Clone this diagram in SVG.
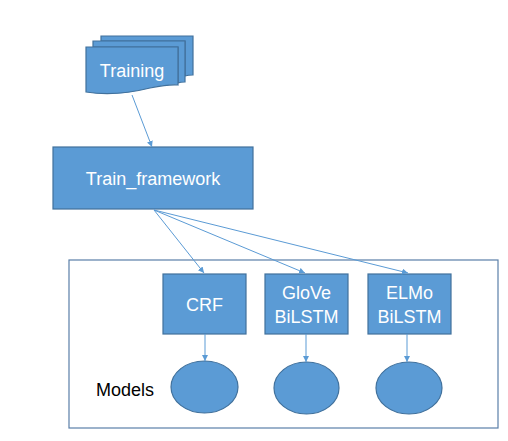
<svg xmlns="http://www.w3.org/2000/svg" width="508" height="441" viewBox="0 0 508 441">
<defs>
<style>
.n{fill:#5B9BD5;stroke:#41719C;stroke-width:1.2}
.t{font-family:"Liberation Sans",Arial,sans-serif;font-size:18px;fill:#fff;text-anchor:middle}
.c{stroke:#5B9BD5;stroke-width:1;fill:none;marker-end:url(#a)}
</style>
<marker id="a" markerWidth="8" markerHeight="8" refX="6" refY="3" orient="auto" markerUnits="userSpaceOnUse">
<path d="M0,0 L6,3 L0,6 Z" fill="#5B9BD5"/>
</marker>
</defs>
<rect width="508" height="441" fill="#fff"/>
<g id="container"><rect x="69" y="260" width="429" height="168" fill="none" stroke="#5A7FA8" stroke-width="1.2"/></g>
<g id="training">
<path class="n" d="M101,36 H193 V75 C190,75 188,75 185,76 V41 H101 Z"/>
<path class="n" d="M93,41 H185 V82 C182,82 180,82 178,83 V47 H93 Z"/>
<path class="n" d="M86,47 H178 V85 C170,84 160,86 150,88 C130,93 110,96 86,92 Z"/>
<text class="t" x="132" y="77">Training</text>
</g>
<g id="train_framework">
<rect class="n" x="53" y="147" width="200" height="62"/>
<text class="t" x="153" y="185">Train_framework</text>
</g>
<g id="crf"><rect class="n" x="163" y="274" width="83" height="60"/><text class="t" x="204.5" y="311">CRF</text></g>
<g id="glove"><rect class="n" x="265" y="274" width="83" height="60"/><text class="t" x="306.5" y="299">GloVe</text><text class="t" x="306.5" y="323">BiLSTM</text></g>
<g id="elmo"><rect class="n" x="368" y="274" width="83" height="60"/><text class="t" x="409.5" y="299">ELMo</text><text class="t" x="409.5" y="323">BiLSTM</text></g>
<g id="m1"><ellipse class="n" cx="204.5" cy="387" rx="33.5" ry="26"/></g>
<g id="m2"><ellipse class="n" cx="306.5" cy="388" rx="32.5" ry="26"/></g>
<g id="m3"><ellipse class="n" cx="409" cy="388" rx="33" ry="26"/></g>
<g id="models-label"><text x="96" y="396" font-family="Liberation Sans,Arial,sans-serif" font-size="18" fill="#000">Models</text></g>
<g id="connectors">
<path class="c" d="M132,95 L152,147"/>
<path class="c" d="M154,210 L204,273"/>
<path class="c" d="M154,210 L305,273"/>
<path class="c" d="M154,210 L408,273"/>
<path class="c" d="M205,334 L205,361"/>
<path class="c" d="M306,334 L306,362"/>
<path class="c" d="M407,334 L407,362"/>
</g>
</svg>
